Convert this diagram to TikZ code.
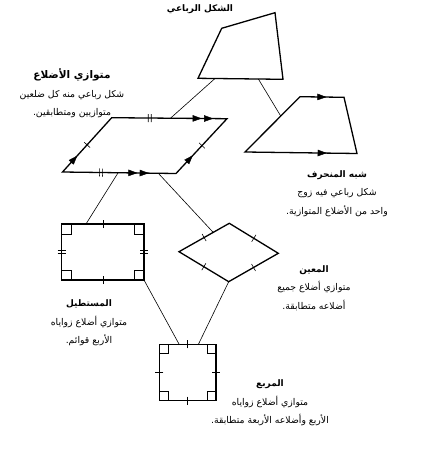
\documentclass[tikz,border=0pt]{standalone}
\usepackage{fontspec}
\newfontfamily\arabicfont[Script=Arabic]{DejaVu Sans}
\TeXXeTstate=1
\usetikzlibrary{decorations.markings,arrows.meta,calc}
\newcommand{\artx}[1]{\beginR #1\endR}
\newcommand{\ttl}[1]{{\bfseries\fontsize{9}{18.5}\selectfont\beginR #1\endR}}
\tikzset{
  figline/.style={line width=1.3pt, line join=miter},
  conn/.style={line width=0.6pt},
  thin mark/.style={line width=0.6pt},
  lbl/.style={align=center, inner sep=0pt, font=\arabicfont\fontsize{9.3}{18.5}\selectfont},
  arr/.style={postaction={decorate, decoration={markings, mark=at position #1 with {\arrow{Triangle[length=9pt,width=6.5pt]}}}}},
  tickone/.style={postaction={decorate, decoration={markings, mark=at position #1 with {\draw[thin mark] (0,-4pt) -- (0,4pt);}}}},
  ticktwo/.style={postaction={decorate, decoration={markings, mark=at position #1 with {\draw[thin mark] (-1.5pt,-4pt) -- (-1.5pt,4pt) (1.5pt,-4pt) -- (1.5pt,4pt);}}}},
}
\begin{document}
\begin{tikzpicture}[x=1pt,y=-1pt]
\useasboundingbox[fill=white] (0,0) rectangle (428,450);
% quadrilateral
\coordinate (Q1) at (221.7,28.3);
\coordinate (Q2) at (275,12.7);
\coordinate (Q3) at (283,79.3);
\coordinate (Q4) at (198,78.3);
% trapezoid
\coordinate (T1) at (300,96.7);
\coordinate (T2) at (344,97.3);
\coordinate (T3) at (357,153.5);
\coordinate (T4) at (245,152);
% parallelogram
\coordinate (P1) at (111.7,117.7);
\coordinate (P2) at (227,118.7);
\coordinate (P3) at (176,173.5);
\coordinate (P4) at (62.5,172);
% rectangle
\coordinate (R1) at (61.7,224);
\coordinate (R2) at (144,224);
\coordinate (R3) at (144,280);
\coordinate (R4) at (61.7,280);
% rhombus
\coordinate (H1) at (179,251.7);
\coordinate (H2) at (229.3,223.3);
\coordinate (H3) at (278.3,253.3);
\coordinate (H4) at (228.7,281.7);
% square
\coordinate (S1) at (159.3,344.3);
\coordinate (S2) at (216,344.3);
\coordinate (S3) at (216,400.7);
\coordinate (S4) at (159.3,400.7);

% shapes
\draw[figline] (Q1) -- (Q2) -- (Q3) -- (Q4) -- cycle;
\draw[figline] (T1) -- (T2) -- (T3) -- (T4) -- cycle;
\draw[figline] (P1) -- (P2) -- (P3) -- (P4) -- cycle;
\draw[figline] (R1) -- (R2) -- (R3) -- (R4) -- cycle;
\draw[figline] (H1) -- (H2) -- (H3) -- (H4) -- cycle;
\draw[figline] (S1) -- (S2) -- (S3) -- (S4) -- cycle;

% trapezoid arrows
\path[arr=0.6] (T1) -- (T2);
\path[arr=0.73] (T4) -- (T3);
% parallelogram marks
\path[ticktwo=0.33, arr=0.78, arr=0.88] (P1) -- (P2);
\path[ticktwo=0.34, arr=0.66, arr=0.76] (P4) -- (P3);
\path[arr=0.3, tickone=0.5] (P4) -- (P1);
\path[arr=0.33, tickone=0.51] (P3) -- (P2);
% rectangle marks
\path[tickone=0.5] (R1) -- (R2);
\path[tickone=0.5] (R4) -- (R3);
\path[ticktwo=0.5] (R1) -- (R4);
\path[ticktwo=0.5] (R2) -- (R3);
\draw[thin mark] ($(R1)+(0,10)$) -- ($(R1)+(10,10)$) -- ($(R1)+(10,0)$);
\draw[thin mark] ($(R2)+(0,10)$) -- ($(R2)+(-10,10)$) -- ($(R2)+(-10,0)$);
\draw[thin mark] ($(R3)+(0,-10)$) -- ($(R3)+(-10,-10)$) -- ($(R3)+(-10,0)$);
\draw[thin mark] ($(R4)+(0,-10)$) -- ($(R4)+(10,-10)$) -- ($(R4)+(10,0)$);
% rhombus marks
\path[tickone=0.5] (H1) -- (H2);
\path[tickone=0.5] (H2) -- (H3);
\path[tickone=0.5] (H3) -- (H4);
\path[tickone=0.5] (H4) -- (H1);
% square marks
\path[tickone=0.5] (S1) -- (S2);
\path[tickone=0.5] (S2) -- (S3);
\path[tickone=0.5] (S3) -- (S4);
\path[tickone=0.5] (S4) -- (S1);
\draw[thin mark] ($(S1)+(0,9)$) -- ($(S1)+(9,9)$) -- ($(S1)+(9,0)$);
\draw[thin mark] ($(S2)+(0,9)$) -- ($(S2)+(-9,9)$) -- ($(S2)+(-9,0)$);
\draw[thin mark] ($(S3)+(0,-9)$) -- ($(S3)+(-9,-9)$) -- ($(S3)+(-9,0)$);
\draw[thin mark] ($(S4)+(0,-9)$) -- ($(S4)+(9,-9)$) -- ($(S4)+(9,0)$);

% connector end points
\coordinate (qa) at ($(Q4)!0.2!(Q3)$);
\coordinate (qb) at ($(Q4)!0.71!(Q3)$);
\coordinate (pt) at ($(P1)!0.51!(P2)$);
\coordinate (tl) at ($(T4)!0.65!(T1)$);
\coordinate (pa) at ($(P4)!0.49!(P3)$);
\coordinate (pb) at ($(P4)!0.844!(P3)$);
\coordinate (rt) at ($(R1)!0.295!(R2)$);
\coordinate (hl) at ($(H1)!0.68!(H2)$);
\coordinate (sa) at ($(S1)!0.35!(S2)$);
\coordinate (sb) at ($(S1)!0.69!(S2)$);
% connectors
\draw[conn] (qa) -- (pt);
\draw[conn] (qb) -- (tl);
\draw[conn] (pa) -- (rt);
\draw[conn] (pb) -- (hl);
\draw[conn] (R3) -- (sa);
\draw[conn] (H4) -- (sb);

% labels
\node[lbl] (lq) at (200,9) {\ttl{الشكل الرباعي}};
\node[lbl] (lp) at (72,93.5) {{\bfseries\fontsize{10.5}{18.5}\selectfont\artx{متوازي الأضلاع}}\\\artx{شكل رباعي منه كل ضلعين}\\\artx{متوازيين ومتطابقين.}};
\node[lbl] (lt) at (337,193.3) {\ttl{شبه المنحرف}\\\artx{شكل رباعي فيه زوج}\\\artx{واحد من الأضلاع المتوازية.}};
\node[lbl] (lh) at (314,288) {\ttl{المعين}\\\artx{متوازي أضلاع جميع}\\\artx{أضلاعه متطابقة.}};
\node[lbl] (lr) at (89,323) {\ttl{المستطيل}\\\artx{متوازي أضلاع زواياه}\\\artx{الأربع قوائم.}};
\node[lbl] (ls) at (270,403) {\ttl{المربع}\\\artx{متوازي أضلاع زواياه}\\\artx{الأربع وأضلاعه الأربعة متطابقة.}};
\end{tikzpicture}
\end{document}
